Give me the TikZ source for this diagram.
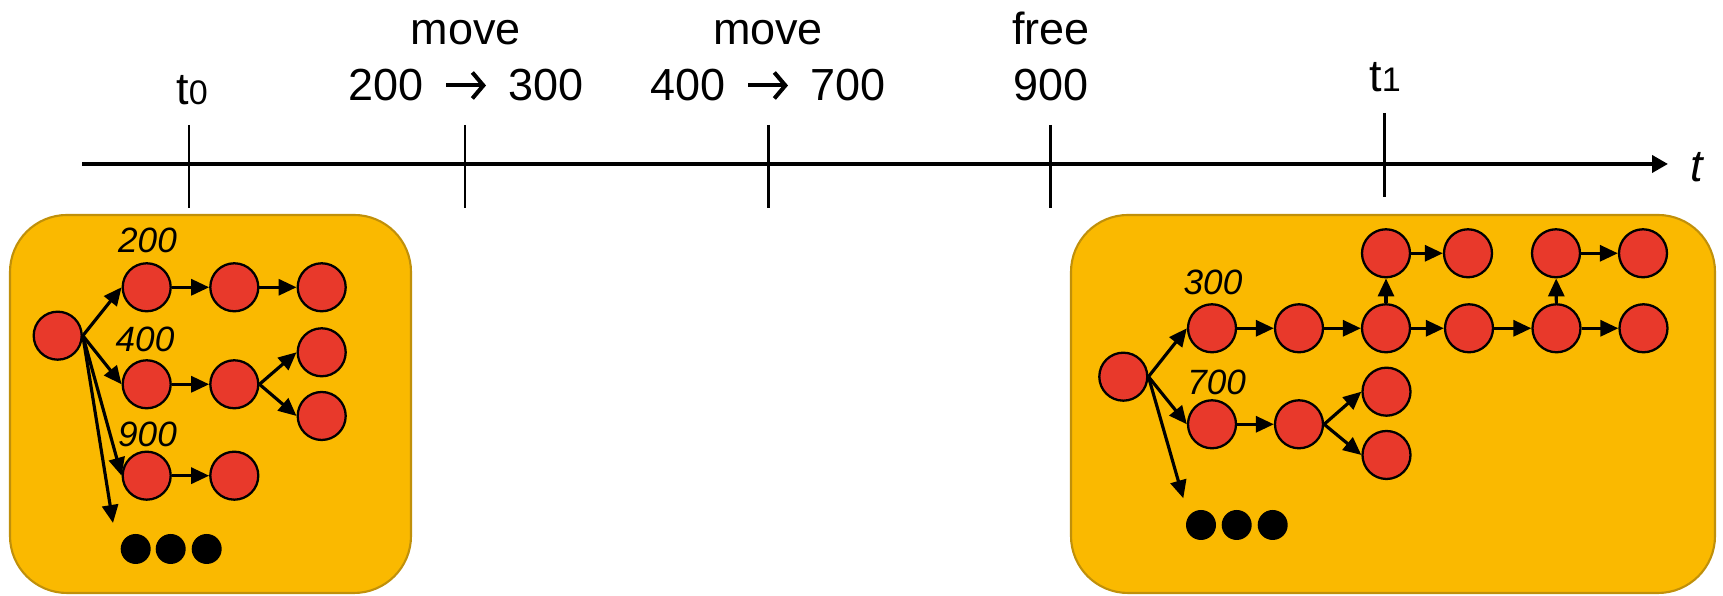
\documentclass[tikz,border=0pt]{standalone}
\usepackage{fontspec}
\setmainfont{Liberation Sans}
\usetikzlibrary{arrows.meta}
% Pfeil zwischen alter und neuer Adresse
\newcommand{\evarrow}{\kern0.2cm\tikz[baseline=0cm]\draw[line width=1.15pt,-{Straight Barb[length=0.11cm,width=0.26cm]}] (0,0.155) -- (0.40,0.155);\kern0.2cm}

\begin{document}
\begin{tikzpicture}[x=1cm,y=1cm,>={Triangle[length=0.18cm,width=0.16cm]},
    obj/.style={circle,draw=black,line width=0.65pt,fill=objred,minimum size=0.48cm,inner sep=0pt},
    ref/.style={->,line width=0.9pt},
    addr/.style={font=\fontsize{10}{12}\selectfont\itshape,anchor=base,inner sep=0pt},
    event/.style={font=\fontsize{12.8}{16.2}\selectfont,align=center,anchor=base,inner sep=0pt},
    heap/.style={draw=heapedge,line width=0.6pt,fill=heapfill,rounded corners=0.57cm}]
    \definecolor{objred}{HTML}{E8392B}
    \definecolor{heapfill}{HTML}{FAB900}
    \definecolor{heapedge}{HTML}{C0900A}
    \useasboundingbox (0,0) rectangle (17.23,5.96);
    % Zeitachse
    \draw[line width=1.1pt,-{Triangle[length=0.16cm,width=0.17cm]}] (0.82,4.32) -- (16.68,4.32);
    \node[anchor=base west,inner sep=0pt,font=\fontsize{12.8}{15}\selectfont\itshape] (taxis) at (16.90,4.14) {t};
    \foreach \x in {1.89,4.65,7.68,10.50}
      \draw[line width=0.85pt] (\x,4.71) -- (\x,3.88);
    \draw[line width=0.85pt] (13.84,4.83) -- (13.84,3.99);
    \node[event] (tzero) at (1.92,4.91) {t{\fontsize{9.7}{10}\selectfont 0}};
    \node[event] (tone) at (13.85,5.04) {t{\fontsize{9.7}{10}\selectfont 1}};
    \node[event] (mvA) at (4.66,4.95) {move\\200\evarrow 300};
    \node[event] (mvB) at (7.68,4.95) {move\\400\evarrow 700};
    \node[event] (freeC) at (10.51,4.95) {free\\900};
    % Heap bei t0
    \draw[heap] (0.10,0.03) rectangle (4.11,3.81);
    \node[obj] (lroot) at (0.577,2.603) {};
    \node[obj] (la1) at (1.467,3.087) {};
    \node[obj] (la2) at (2.343,3.087) {};
    \node[obj] (la3) at (3.217,3.087) {};
    \node[obj] (lb1) at (1.467,2.117) {};
    \node[obj] (lb2) at (2.343,2.117) {};
    \node[obj] (lb3) at (3.217,2.437) {};
    \node[obj] (lb4) at (3.217,1.800) {};
    \node[obj] (lc1) at (1.467,1.203) {};
    \node[obj] (lc2) at (2.343,1.203) {};
    \coordinate (lmore) at (1.13,0.73);
    \node[addr] (la200) at (1.475,3.433) {200};
    \node[addr] (lb400) at (1.45,2.443) {400};
    \node[addr] (lc900) at (1.475,1.493) {900};
    \foreach \x in {1.357,1.707,2.067}
      \fill (\x,0.47) circle (0.15);
    \draw[ref] (lroot.east) -- (la1.west);
    \draw[ref] (lroot.east) -- (lb1.west);
    \draw[ref] (lroot.east) -- (lc1.west);
    \draw[ref] (lroot.east) -- (lmore);
    \draw[ref] (la1) -- (la2);
    \draw[ref] (la2) -- (la3);
    \draw[ref] (lb1) -- (lb2);
    \draw[ref] (lb2.east) -- (lb3.west);
    \draw[ref] (lb2.east) -- (lb4.west);
    \draw[ref] (lc1) -- (lc2);
    % Heap bei t1
    \draw[heap] (10.71,0.03) rectangle (17.15,3.81);
    \node[obj] (rroot) at (11.233,2.193) {};
    \node[obj] (rp1) at (12.12,2.677) {};
    \node[obj] (rp2) at (12.99,2.677) {};
    \node[obj] (rp3) at (13.86,2.677) {};
    \node[obj] (rp4) at (14.69,2.677) {};
    \node[obj] (rp5) at (15.565,2.677) {};
    \node[obj] (rp6) at (16.435,2.677) {};
    \node[obj] (ru1) at (13.86,3.427) {};
    \node[obj] (ru2) at (14.68,3.427) {};
    \node[obj] (ru3) at (15.56,3.427) {};
    \node[obj] (ru4) at (16.43,3.427) {};
    \node[obj] (rq1) at (12.12,1.717) {};
    \node[obj] (rq2) at (12.99,1.717) {};
    \node[obj] (rq3) at (13.865,2.043) {};
    \node[obj] (rq4) at (13.865,1.410) {};
    \coordinate (rmore) at (11.833,0.977);
    \node[addr] (rp300) at (12.13,3.01) {300};
    \node[addr] (rq700) at (12.167,2.01) {700};
    \foreach \x in {12.01,12.367,12.727}
      \fill (\x,0.71) circle (0.15);
    \draw[ref] (rroot.east) -- (rp1.west);
    \draw[ref] (rroot.east) -- (rq1.west);
    \draw[ref] (rroot.east) -- (rmore);
    \draw[ref] (rp1) -- (rp2);
    \draw[ref] (rp2) -- (rp3);
    \draw[ref] (rp3) -- (rp4);
    \draw[ref] (rp4) -- (rp5);
    \draw[ref] (rp5) -- (rp6);
    \draw[ref] (rp3) -- (ru1);
    \draw[ref] (ru1) -- (ru2);
    \draw[ref] (rp5) -- (ru3);
    \draw[ref] (ru3) -- (ru4);
    \draw[ref] (rq1) -- (rq2);
    \draw[ref] (rq2.east) -- (rq3.west);
    \draw[ref] (rq2.east) -- (rq4.west);
  \end{tikzpicture}
\end{document}
